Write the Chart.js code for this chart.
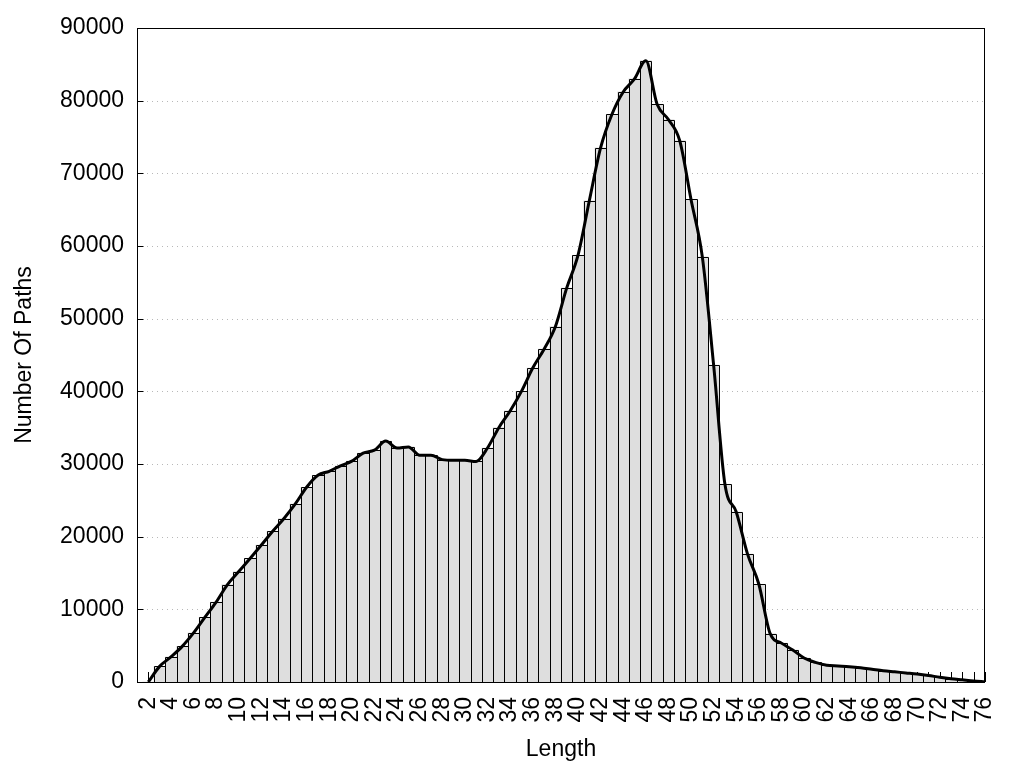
<!DOCTYPE html>
<html>
<head>
<meta charset="utf-8">
<script src="https://cdn.jsdelivr.net/npm/chart.js@4/dist/chart.umd.min.js"></script>
<style>
  html, body { margin: 0; padding: 0; background: #ffffff; }
  canvas { display: block; }
</style>
</head>
<body>
<canvas id="c" width="1024" height="768"></canvas>
<script>
const categories = ["1","2","3","4","5","6","7","8","9","10","11","12","13","14","15","16","17","18","19","20",
  "21","22","23","24","25","26","27","28","29","30","31","32","33","34","35","36","37","38","39","40",
  "41","42","43","44","45","46","47","48","49","50","51","52","53","54","55","56","57","58","59","60",
  "61","62","63","64","65","66","67","68","69","70","71","72","73","74","75","76"];

const pathCounts = [null, 0, 2150, 3450, 4900, 6750, 8900, 11000, 13400, 15200,
  17000, 18850, 20750, 22500, 24500, 26800, 28450, 29000, 29750, 30400,
  31500, 31900, 33150, 32200, 32350, 31200, 31200, 30600, 30500, 30500,
  30350, 32200, 35000, 37300, 40000, 43200, 45800, 48900, 54200, 58700,
  66200, 73500, 78100, 81200, 83000, 85500, 79500, 77400, 74500, 66400,
  58500, 43600, 27200, 23400, 17600, 13450, 6650, 5350, 4400, 3300,
  2700, 2300, 2200, 2100, 1950, 1750, 1550, 1400, 1250, 1100,
  900, 650, 450, 300, 150, 50];

const xTickLabels = ["2","4","6","8","10","12","14","16","18","20","22","24","26","28","30","32","34","36","38",
  "40","42","44","46","48","50","52","54","56","58","60","62","64","66","68","70","72","74","76"];

const yMin = 0, yMax = 90000, yStep = 10000;

const FONT = "'Liberation Sans', Arial, sans-serif";

const decor = {
  id: 'decor',
  beforeDatasetsDraw(chart) {
    const {ctx, chartArea: a, scales: {x, y}} = chart;
    ctx.save();
    ctx.lineWidth = 1;
    ctx.strokeStyle = '#b8b8b8';
    ctx.setLineDash([1, 4]);
    y.ticks.forEach(t => {
      if (t.value > y.min && t.value < y.max) {
        const py = Math.round(y.getPixelForValue(t.value)) + 0.5;
        ctx.beginPath(); ctx.moveTo(a.left, py); ctx.lineTo(a.right, py); ctx.stroke();
      }
    });
    ctx.setLineDash([]);
    ctx.strokeStyle = '#000';
    x.ticks.forEach((t, i) => {
      const px = Math.round(x.getPixelForTick(i)) + 0.5;
      ctx.beginPath(); ctx.moveTo(px, a.bottom); ctx.lineTo(px, a.bottom - 10); ctx.stroke();
    });
    ctx.restore();
  },
  afterDatasetDraw(chart, args) {
    if (args.index !== 0) return;
    const {ctx, chartArea: a} = chart;
    ctx.save();
    ctx.beginPath();
    ctx.rect(a.left, a.top, a.right - a.left, a.bottom - a.top);
    ctx.clip();
    ctx.strokeStyle = '#000';
    ctx.lineWidth = 1;
    args.meta.data.forEach(el => {
      const p = el.getProps(['x', 'y', 'base', 'width'], true);
      if (!isFinite(p.x) || !isFinite(p.y) || !isFinite(p.base)) return;
      const L = Math.round(p.x - p.width / 2) + 0.5;
      const R = Math.round(p.x + p.width / 2) + 0.5;
      const T = Math.round(p.y) + 0.5;
      const B = Math.round(p.base) + 0.5;
      ctx.beginPath(); ctx.moveTo(L, B); ctx.lineTo(L, T); ctx.lineTo(R, T); ctx.lineTo(R, B); ctx.stroke();
    });
    ctx.restore();
  },
  afterDraw(chart) {
    const {ctx, chartArea: a, scales: {y}} = chart;
    ctx.save();
    ctx.strokeStyle = '#000';
    ctx.lineWidth = 1;
    const L = Math.round(a.left) + 0.5, R = Math.round(a.right) - 0.5;
    const T = Math.round(a.top) + 0.5, B = Math.round(a.bottom) + 0.5;
    ctx.strokeRect(L, T, R - L, B - T);
    y.ticks.forEach(t => {
      const py = Math.round(y.getPixelForValue(t.value)) + 0.5;
      ctx.beginPath(); ctx.moveTo(L, py); ctx.lineTo(L + 6, py); ctx.stroke();
    });
    ctx.restore();
  }
};

new Chart(document.getElementById('c'), {
  type: 'bar',
  data: {
    labels: categories,
    datasets: [
      {
        type: 'bar',
        data: pathCounts,
        backgroundColor: '#dedede',
        borderWidth: 0,
        barPercentage: 1,
        categoryPercentage: 1,
        clip: 0,
        order: 2
      },
      {
        type: 'line',
        data: pathCounts,
        borderColor: '#000000',
        borderWidth: 3,
        pointRadius: 0,
        fill: false,
        cubicInterpolationMode: 'monotone',
        order: 1
      }
    ]
  },
  options: {
    responsive: false,
    animation: false,
    devicePixelRatio: 1,
    layout: { padding: { top: 28, right: 39, bottom: 0, left: 0 } },
    plugins: { legend: { display: false }, tooltip: { enabled: false } },
    scales: {
      x: {
        type: 'category',
        offset: false,
        grid: { display: false },
        border: { display: false },
        ticks: {
          autoSkip: false,
          maxRotation: 90,
          minRotation: 90,
          padding: 7,
          color: '#000',
          font: { family: FONT, size: 23 },
          callback: function (v, i) {
            const l = categories[i];
            return xTickLabels.includes(l) ? l : '';
          }
        },
        title: {
          display: true,
          text: 'Length',
          color: '#000',
          font: { family: FONT, size: 23 },
          padding: { top: 0, bottom: 5 }
        },
        afterFit: s => { s.height = 86; }
      },
      y: {
        min: yMin,
        max: yMax,
        grid: { display: false },
        border: { display: false },
        ticks: {
          stepSize: yStep,
          padding: 5,
          color: '#000',
          font: { family: FONT, size: 23 },
          callback: v => String(v)
        },
        title: {
          display: true,
          text: 'Number Of Paths',
          color: '#000',
          font: { family: FONT, size: 23 },
          padding: { top: 11, bottom: 0 }
        },
        afterFit: s => { s.width = 137; }
      }
    }
  },
  plugins: [decor]
});
</script>
</body>
</html>
